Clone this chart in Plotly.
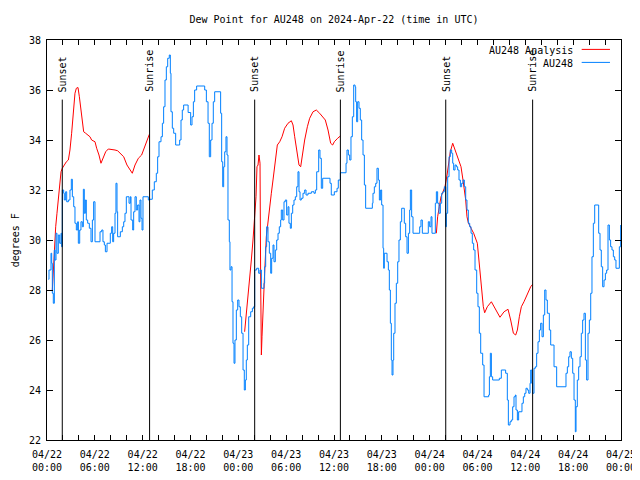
import pandas as pd
import plotly.graph_objects as go

START = pd.Timestamp("2024-04-22 00:00")

# AU248 observed dew point (hours since 2024-04-22 00:00 UTC, degrees F)
obs_hours = [
    0.17, 0.25, 0.50, 0.59, 0.67, 0.79, 0.92, 1.00, 1.13, 1.25, 1.42, 1.59, 1.76, 1.84, 1.92, 2.09, 2.17, 2.34,
    2.47, 2.68, 2.88, 3.05, 3.18, 3.35, 3.51, 3.68, 3.85, 3.93, 4.10, 4.26, 4.43, 4.56, 4.68, 4.81, 4.93, 5.10,
    5.31, 5.52, 5.69, 5.85, 6.02, 6.65, 6.86, 7.02, 7.19, 7.32, 7.53, 7.94, 8.11, 8.24, 8.36, 8.53, 8.65, 8.78,
    8.86, 9.20, 9.45, 9.62, 9.78, 9.95, 10.29, 10.45, 10.54, 10.75, 10.87, 11.04, 11.20, 11.37, 11.54, 11.66,
    11.79, 11.92, 12.04, 12.71, 12.88, 13.21, 13.46, 13.71, 13.88, 14.05, 14.30, 14.47, 14.63, 14.80, 14.97,
    15.14, 15.34, 15.47, 15.55, 15.72, 15.89, 16.14, 16.64, 16.81, 16.97, 17.14, 17.70,
    18.02, 18.19, 18.36, 18.52, 18.77, 19.78, 19.99, 20.20, 20.36, 20.53, 20.70, 20.86, 21.03, 21.78, 21.91,
    22.04, 22.16, 22.29, 22.45, 22.58, 22.70, 22.87, 22.95, 23.08, 23.21, 23.33, 23.46, 23.58, 23.75, 23.92,
    24.08, 24.25, 24.42, 24.59, 24.75, 24.88, 25.00, 25.13, 25.30, 25.55, 25.76, 25.92, 26.05, 26.30, 26.55,
    26.72, 26.89, 27.22, 27.30, 27.43, 27.55, 27.72, 27.89, 28.06, 28.18, 28.35, 28.47, 28.64, 28.81, 28.98,
    29.14, 29.31, 29.39, 29.56, 29.73, 29.89, 30.06, 30.23, 30.35, 30.52, 30.65, 30.82, 30.98, 31.15, 31.32,
    31.48, 31.61, 31.74, 31.90, 32.11, 32.32, 32.49, 32.74, 33.16, 33.49, 33.66, 33.83, 34.08, 34.24, 34.41,
    34.58, 35.50, 35.66,
    36.04, 36.38, 36.54, 36.80, 37.51, 37.63, 37.80, 37.97, 38.13, 38.30, 38.47, 38.64, 38.72, 38.84, 38.97,
    39.14, 39.30, 39.47, 39.64, 39.81, 39.97, 40.81, 40.89, 41.06, 41.23, 41.39, 41.56, 41.69, 41.85, 41.98,
    42.15, 42.23, 42.31, 42.65, 42.82, 42.94, 43.07, 43.19, 43.28, 43.40, 43.49, 43.65, 43.82, 43.99, 44.15,
    44.32, 44.49, 44.82, 44.99, 45.16, 45.33, 45.49, 45.58, 45.74, 45.91, 46.75, 46.91, 47.08, 47.83, 48.00,
    48.17, 48.29, 48.71, 48.84, 49.00, 49.17, 49.34, 49.51, 49.67, 49.84, 50.01, 50.09, 50.26, 50.43, 50.59,
    50.76, 50.89, 51.01, 51.18, 51.35, 51.51, 51.68, 51.85, 52.01, 52.18, 52.35, 52.52, 52.68, 52.85, 53.02,
    53.19, 53.35, 53.52, 53.69,
    53.90, 54.06, 54.23, 54.40, 54.65, 54.82, 55.40, 55.49, 55.61, 55.74, 55.90, 56.74, 56.99, 57.53, 57.74,
    57.87, 58.08, 58.24, 58.41, 58.58, 58.75, 58.83, 59.00, 59.16, 59.58, 59.75, 59.92, 60.08, 60.25, 60.42,
    60.59, 60.67, 60.80, 60.92, 61.09, 61.26, 61.42, 61.59, 61.76, 61.92, 62.09, 62.26, 62.43, 62.59, 62.76,
    63.01, 63.18, 63.60, 63.93, 65.10, 65.27, 65.44, 65.60, 65.77, 65.94, 66.11, 66.27, 66.36, 66.52, 66.69,
    66.86, 67.02, 67.19, 67.36, 67.53, 67.69, 67.86, 68.03, 68.20, 68.36, 68.53, 68.70, 69.20, 69.37, 69.53,
    69.70, 69.87, 70.04, 70.20, 70.37, 70.54, 70.70, 70.87, 71.04, 71.21, 71.37, 71.79, 71.96,
]
obs_values = [
    28.43, 28.8, 29.47, 29.07, 27.87, 27.47, 29.6, 29.2, 30.27, 29.47, 30.2, 29.87, 30.27, 29.73, 32.0, 31.87, 31.6, 31.93,
    31.53, 31.6, 32.0, 32.43, 31.73, 31.33, 30.67, 30.4, 30.73, 29.87, 30.4, 30.73, 30.53, 32.03, 31.07, 31.6, 30.8, 30.67,
    30.47, 29.93, 30.8, 31.53, 29.93, 30.33, 30.4, 29.93, 29.8, 29.53, 29.87, 30.27, 30.53, 29.93, 30.27, 31.07, 32.27, 31.13,
    30.13, 30.33, 30.53, 30.73, 31.07, 31.73, 31.47, 31.73, 30.8, 30.4, 31.13, 31.73, 31.2, 31.4, 30.73, 31.6,
    30.87, 30.4, 31.73, 31.6, 31.63, 32.0, 32.33, 32.67, 33.33, 33.93, 34.13, 34.67, 35.33, 36.4, 36.93,
    37.27, 37.4, 36.67, 35.13, 34.47, 34.27, 33.8, 34.0, 34.8, 35.2, 35.4, 35.1,
    34.6, 34.93, 35.53, 36.0, 36.16, 36.0, 35.53, 34.67, 33.33, 34.0, 34.67, 35.53, 35.93, 35.07, 33.13,
    32.13, 32.93, 33.53, 34.13, 33.4, 30.8, 29.93, 28.8, 28.93, 27.53, 25.87, 25.07, 26.0, 27.2, 27.6,
    27.33, 26.93, 26.27, 24.8, 24.0, 24.4, 25.2, 25.8, 26.93, 27.13, 27.27, 27.33, 28.8, 28.87, 28.67,
    28.8, 28.07, 28.27, 28.93, 29.73, 30.53, 29.93, 29.47, 28.67, 29.27, 29.8, 29.13, 29.6, 30.0, 30.27,
    30.53, 30.8, 31.2, 30.8, 31.53, 31.6, 31.0, 31.33, 30.67, 30.47, 31.07, 31.4, 31.6, 31.73, 32.13,
    32.73, 31.93, 31.6, 31.67, 31.87, 32.0, 31.8, 31.87, 31.93, 31.87, 32.0, 32.73, 33.6, 33.27, 32.07,
    32.47, 32.27, 31.8,
    31.93, 32.07, 32.4, 32.69, 33.07, 33.6, 33.4, 33.2, 34.13, 34.93, 36.2, 36.13, 35.53, 34.73, 35.53,
    35.27, 34.8, 34.0, 33.4, 32.2, 31.27, 31.47, 31.87, 32.13, 32.27, 32.87, 32.4, 31.6, 32.0, 31.4,
    29.67, 28.87, 29.47, 29.13, 28.8, 28.0, 26.67, 25.2, 24.6, 25.2, 26.27, 27.47, 28.27, 29.13, 30.0,
    30.73, 31.27, 30.67, 30.13, 29.47, 30.27, 31.2, 32.0, 30.93, 30.27, 30.53, 30.8, 30.27, 30.73, 30.53,
    30.93, 30.27, 31.47, 31.93, 31.47, 31.07, 31.47, 31.87, 31.93, 32.13, 30.53, 31.07, 32.53, 33.33, 33.6,
    33.47, 33.07, 32.8, 33.0, 32.93, 32.8, 32.4, 32.13, 32.27, 32.4, 32.13, 31.6, 31.2, 30.67, 30.53,
    30.27, 29.87, 29.6, 28.8,
    27.87, 27.33, 26.27, 25.47, 25.0, 23.73, 23.8, 24.53, 25.47, 24.53, 24.4, 24.47, 24.8, 24.67, 23.6,
    22.6, 22.73, 22.8, 23.33, 23.73, 23.8, 23.2, 22.8, 23.13, 23.47, 23.73, 23.87, 24.07, 24.0, 23.87,
    24.27, 24.8, 24.27, 23.87, 24.87, 24.93, 25.47, 25.93, 26.4, 26.67, 26.13, 27.0, 28.0, 27.6, 27.07,
    26.4, 25.8, 24.93, 24.13, 24.67, 24.93, 25.33, 25.53, 25.27, 24.67, 23.6, 22.33, 23.33, 24.4, 24.93,
    25.33, 26.27, 26.8, 27.07, 25.2, 24.4, 26.27, 26.8, 27.87, 29.33, 30.67, 31.4, 30.27, 29.6, 28.93,
    28.13, 28.4, 28.67, 28.8, 30.6, 30.0, 29.73, 29.6, 29.33, 29.2, 28.87, 29.73, 30.6,
]

# AU248 analysis dew point (night-time segments, None = gap)
ana_hours = [
    0.67, 0.79, 0.92, 1.09, 1.25, 1.42, 1.59, 1.76, 1.92, 2.17, 2.43, 2.68, 2.88, 3.09, 3.30, 3.51, 3.68, 3.89,
    4.06, 4.26, 4.43, 4.60, 4.85, 5.39, 5.60, 6.02, 6.23, 6.52, 6.77, 7.07, 7.36, 7.69, 8.11, 8.53, 8.86, 9.20,
    9.62, 10.03, 10.45, 10.70, 11.04, 11.46, 11.87, 12.29, 12.63, 12.84,
    None,
    24.79, 25.00, 25.21, 25.42, 25.63, 25.84, 26.05, 26.22, 26.34, 26.47, 26.59, 26.72, 26.80, 26.89, 26.97,
    27.09, 27.30, 27.51, 27.72, 27.93, 28.14, 28.35, 28.56, 28.77, 28.89, 29.19, 29.48, 29.81, 30.23, 30.65,
    30.86, 31.07, 31.32, 31.61, 31.82, 31.99, 32.32, 32.66, 32.95, 33.37, 33.78, 34.20, 34.62, 34.91, 35.25,
    35.58, 35.83, 36.04, 36.46, 36.80,
    None,
    48.84, 49.00, 49.21, 49.42, 49.67, 49.92, 50.18, 50.34, 50.59, 50.89, 51.18, 51.43, 51.68, 51.93, 52.18,
    52.35, 52.52, 52.68, 52.85, 53.19, 53.52, 53.98, 54.23, 54.48, 54.73, 54.90, 55.23, 55.74, 56.28, 56.82,
    57.33, 57.83, 58.16, 58.50, 58.79, 59.00, 59.25, 59.50, 59.83, 60.25, 60.67, 60.92,
]
ana_values = [
    28.0, 28.8, 29.6, 30.53, 31.07, 31.73, 32.27, 32.73, 32.87, 33.0, 33.13, 33.2, 33.6, 34.27, 35.2, 35.87, 36.07, 36.1,
    35.73, 35.13, 34.6, 34.33, 34.27, 34.13, 34.0, 33.93, 33.67, 33.4, 33.07, 33.33, 33.53, 33.64, 33.63, 33.6, 33.57, 33.47,
    33.33, 33.0, 32.8, 32.67, 33.0, 33.27, 33.4, 33.8, 34.07, 34.23,
    None,
    26.33, 27.0, 27.73, 28.4, 29.2, 30.0, 31.07, 31.73, 32.93, 33.0, 33.4, 33.07, 28.4, 25.4, 26.13,
    27.33, 28.67, 30.13, 30.8, 31.33, 31.87, 32.4, 32.93, 33.47, 33.8, 33.93, 34.13, 34.47, 34.67, 34.77,
    34.6, 34.13, 33.6, 33.0, 32.93, 33.33, 34.0, 34.53, 34.87, 35.13, 35.2, 35.07, 34.91, 34.8, 34.4,
    33.87, 33.8, 33.93, 34.07, 34.16,
    None,
    30.27, 30.93, 31.33, 31.73, 31.93, 32.13, 32.6, 33.07, 33.53, 33.87, 33.6, 33.4, 33.2, 32.93, 32.4,
    32.0, 31.6, 30.93, 30.69, 30.47, 30.27, 29.87, 28.93, 28.13, 27.33, 27.09, 27.33, 27.53, 27.2, 26.91,
    27.13, 27.23, 26.8, 26.27, 26.2, 26.4, 26.93, 27.33, 27.53, 27.87, 28.13, 28.23,
]

sun_labels = ["Sunset", "Sunrise", "Sunset", "Sunrise", "Sunset", "Sunrise"]
sun_times = ["2024-04-22 01:55", "2024-04-22 12:52", "2024-04-23 02:03",
             "2024-04-23 12:48", "2024-04-24 02:01", "2024-04-24 12:55"]

y_ticks = [22, 24, 26, 28, 30, 32, 34, 36, 38]

FONT = "DejaVu Sans Mono"
RED = "#ff0000"
BLUE = "#0080ff"


def to_time(hours):
    return [None if h is None else START + pd.Timedelta(hours=h) for h in hours]


fig = go.Figure()
fig.add_trace(go.Scatter(x=to_time(ana_hours), y=ana_values, mode="lines",
                         line=dict(color=RED, width=1), connectgaps=False,
                         name="AU248 Analysis", showlegend=False))
fig.add_trace(go.Scatter(x=to_time(obs_hours), y=obs_values, mode="lines",
                         line=dict(color=BLUE, width=1, shape="hv"),
                         name="AU248", showlegend=False))

shapes = []
annotations = []
for lab, t in zip(sun_labels, sun_times):
    shapes.append(dict(type="line", xref="x", yref="paper", x0=t, x1=t, y0=0, y1=0.851,
                       line=dict(color="black", width=1)))
    annotations.append(dict(text=lab, xref="x", yref="paper", x=t, y=0.867,
                            xanchor="center", yanchor="bottom", textangle=-90,
                            showarrow=False, borderpad=0,
                            font=dict(family=FONT, size=10, color="black")))

# legend (gnuplot style: text right-aligned, sample line on the right)
legend_items = [("AU248 Analysis", RED, 0.9745), ("AU248", BLUE, 0.942)]
for name, col, yp in legend_items:
    annotations.append(dict(text=name, xref="paper", yref="paper", x=0.9175, y=yp,
                            xanchor="right", yanchor="middle", showarrow=False, borderpad=0,
                            font=dict(family=FONT, size=10, color="black")))
    shapes.append(dict(type="line", xref="paper", yref="paper", x0=0.9315, x1=0.9808,
                       y0=yp + 0.002, y1=yp + 0.002, line=dict(color=col, width=1)))

annotations.append(dict(text="degrees F", xref="paper", yref="paper", x=-0.0665, y=0.5,
                        xanchor="left", yanchor="middle", textangle=-90, showarrow=False,
                        borderpad=0,
                        font=dict(family=FONT, size=10, color="black")))

# the page body adds an 8px offset, so margins are reduced by 8 on the left/top
fig.update_layout(
    width=640, height=480,
    margin=dict(l=39, r=27, t=32, b=48, autoexpand=False),
    paper_bgcolor="white", plot_bgcolor="white",
    font=dict(family=FONT, size=10, color="black"),
    title=dict(text="Dew Point for AU248 on 2024-Apr-22 (time in UTC)",
               x=0.5, xref="paper", y=1 - 11 / 480, yanchor="middle",
               font=dict(family=FONT, size=10, color="black")),
    shapes=shapes, annotations=annotations,
    showlegend=False,
)
fig.update_xaxes(
    type="date", range=["2024-04-22 00:00", "2024-04-25 00:00"],
    dtick=6 * 3600 * 1000, tick0="2024-04-22 00:00", tickformat="%m/%d<br>%H:%M",
    ticks="inside", ticklen=5, tickcolor="black", tickwidth=1,
    showline=True, linecolor="black", linewidth=1, mirror="ticks",
    showgrid=False, zeroline=False, automargin=False, ticklabelstandoff=5,
    minor=dict(dtick=2 * 3600 * 1000, ticks="inside", ticklen=5, tickcolor="black", showgrid=False),
    tickfont=dict(family=FONT, size=10, color="black"),
)
fig.update_yaxes(
    range=[22, 38], tickvals=y_ticks, ticktext=[str(v) for v in y_ticks],
    ticks="inside", ticklen=6, tickcolor="black", tickwidth=1,
    showline=True, linecolor="black", linewidth=1, mirror="ticks",
    showgrid=False, zeroline=False, automargin=False, ticklabelstandoff=3,
    tickfont=dict(family=FONT, size=10, color="black"),
)

fig.write_html("out.html")
